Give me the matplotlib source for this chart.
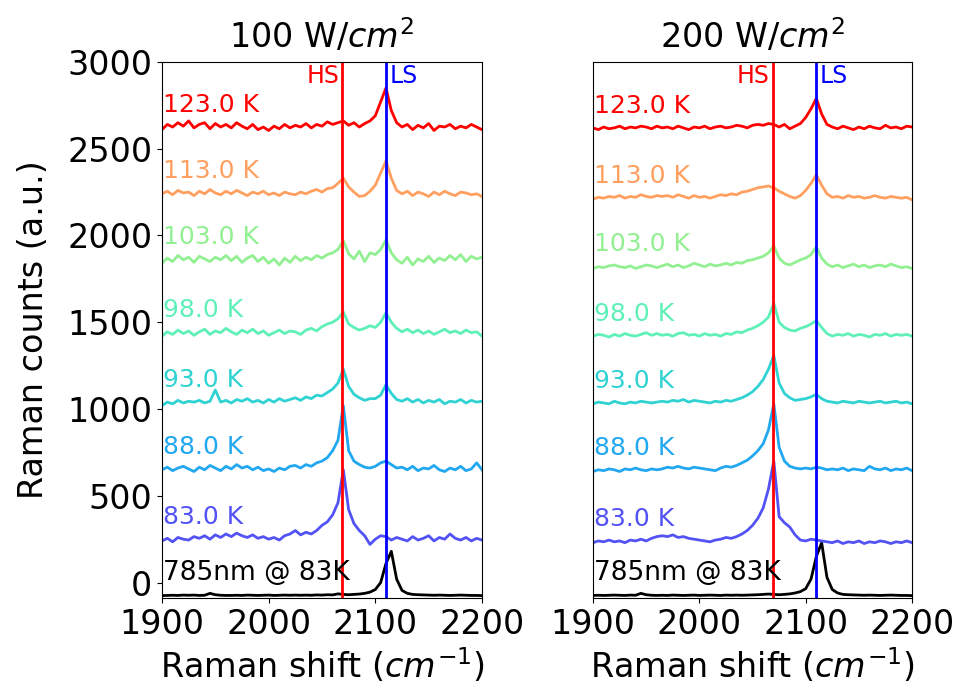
import numpy as np
import matplotlib
matplotlib.use("Agg")
import matplotlib.pyplot as plt

# Raman shift grid (cm^-1)
shift = np.arange(1900, 2201, 5)

labels = ["785nm @ 83K", "83.0 K", "88.0 K", "93.0 K", "98.0 K", "103.0 K", "113.0 K", "123.0 K"]
colors = ["#000000", "#5252f5", "#22a8f0", "#30d2d2", "#5ff0b8", "#92f092", "#ffa060", "#ff0000"]
titles = ["100 W/$cm^2$", "200 W/$cm^2$"]
hs_pos = 2069
ls_pos = 2110

# ---- 100 W/cm2 (offset spectra as displayed) ----
p100_black = [-75, -74, -73, -74, -72, -73, -72, -74, -73, -62, -70, -73, -74,
              -74, -73, -74, -72, -73, -74, -73, -72, -74, -73, -72, -73, -72,
              -73, -72, -73, -71, -72, -70, -71, -65,
              -68,
              -70, -68, -66, -62, -55,
              -40, 0, 110, 180, 20,
              -45, -62, -68, -70, -71, -72, -73, -72, -73, -74, -73, -72, -73, -74, -74, -75]
p100_83 = [240, 255, 235, 260, 250, 245, 265, 255, 270, 250, 275, 260, 280,
           265, 285, 270, 260, 275, 255, 265, 250, 260, 245, 270, 280, 300,
           275, 290, 280, 300, 330, 350, 390, 460,
           650,
           420, 340, 300, 270, 220,
           250, 270, 265, 245, 260,
           250, 240, 265, 245, 255, 270, 240, 260, 250, 280, 255, 245, 260, 240, 255, 245]
p100_88 = [650, 665, 645, 660, 670, 655, 640, 665, 650, 675, 660, 645, 670,
           655, 680, 660, 670, 650, 665, 645, 655, 640, 660, 650, 670, 675,
           660, 680, 670, 690, 700, 720, 760, 820,
           1020,
           760, 700, 680, 665, 660,
           670, 690, 700, 680, 660,
           665, 650, 670, 645, 660, 655, 675, 650, 640, 660, 650, 670, 645, 655, 690, 650]
p100_93 = [1020, 1040, 1030, 1050, 1035, 1045, 1040, 1050, 1035, 1045, 1110, 1040, 1050,
           1035, 1055, 1045, 1060, 1040, 1050, 1035, 1055, 1040, 1060, 1045, 1055, 1065,
           1050, 1070, 1060, 1080, 1075, 1095, 1115, 1150,
           1230,
           1130, 1085, 1065, 1050, 1060,
           1060, 1080, 1140, 1090, 1055,
           1045, 1060, 1040, 1055, 1035, 1050, 1040, 1055, 1030, 1045, 1040, 1055, 1035, 1050, 1040, 1045]
p100_98 = [1420, 1445, 1430, 1455, 1435, 1450, 1425, 1445, 1460, 1430, 1450, 1440, 1465,
           1445, 1430, 1455, 1440, 1460, 1435, 1450, 1425, 1440, 1455, 1435, 1450, 1445,
           1430, 1455, 1465, 1450, 1475, 1490, 1500, 1520,
           1560,
           1490, 1470, 1455, 1465, 1480,
           1470, 1500, 1555, 1500, 1465,
           1445, 1460, 1440, 1455, 1435, 1450, 1430, 1445, 1460, 1440, 1450, 1435, 1455, 1440, 1445, 1420]
p100_103 = [1840, 1870, 1850, 1885, 1860, 1875, 1845, 1880, 1865, 1850, 1875, 1860, 1885,
            1855, 1880, 1845, 1870, 1885, 1850, 1875, 1840, 1865, 1830, 1870, 1845, 1880,
            1855, 1875, 1860, 1885, 1870, 1890, 1900, 1920,
            1970,
            1895, 1865, 1910, 1850, 1900,
            1890, 1920, 1975, 1900, 1860,
            1840, 1875, 1830, 1865, 1850, 1880, 1845, 1870, 1855, 1885, 1860, 1890, 1850, 1880, 1865, 1875]
p100_113 = [2240, 2255, 2235, 2260, 2245, 2250, 2230, 2255, 2240, 2265, 2245, 2235, 2255,
            2240, 2260, 2245, 2230, 2250, 2240, 2255, 2235, 2245, 2230, 2250, 2240, 2235,
            2250, 2240, 2255, 2265, 2250, 2270, 2275, 2300,
            2330,
            2280, 2250, 2225, 2230, 2255,
            2290, 2360, 2430, 2330, 2260,
            2240, 2255, 2230, 2250, 2240, 2225, 2250, 2235, 2255, 2240, 2230, 2250, 2245, 2235, 2240, 2225]
p100_123 = [2610, 2640, 2625, 2650, 2630, 2660, 2620, 2640, 2650, 2615, 2645, 2625, 2640,
            2620, 2650, 2630, 2615, 2640, 2610, 2625, 2605, 2630, 2615, 2640, 2620, 2635,
            2625, 2645, 2620, 2640, 2630, 2655, 2640, 2650,
            2660,
            2635, 2650, 2625, 2645, 2660,
            2690, 2770, 2850, 2720, 2650,
            2625, 2640, 2610, 2635, 2620, 2645, 2605, 2630, 2625, 2640, 2615, 2630, 2620, 2640, 2625, 2610]

# ---- 200 W/cm2 ----
p200_black = [-74, -73, -74, -73, -72, -73, -74, -72, -73, -62, -70, -73, -74,
              -73, -74, -72, -73, -74, -73, -72, -74, -73, -72, -73, -74, -72,
              -73, -72, -73, -72, -71, -70, -68, -66,
              -68,
              -70, -68, -65, -60, -52,
              -35, 20, 150, 230, 30,
              -40, -60, -68, -70, -71, -72, -73, -72, -73, -74, -73, -72, -73, -74, -74, -75]
p200_83 = [230, 240, 235, 245, 235, 240, 230, 245, 240, 250, 240, 255, 265,
           270, 265, 275, 260, 265, 255, 250, 245, 240, 235, 245, 250, 260,
           255, 265, 280, 300, 330, 370, 430, 540,
           700,
           380, 345, 320, 275, 245,
           240, 250, 245, 240, 235,
           230, 240, 225, 235, 230, 240, 225, 235, 230, 240, 235, 225, 235, 230, 240, 230]
p200_88 = [640, 650, 645, 655, 650, 640, 655, 650, 660, 650, 645, 655, 650,
           655, 665, 660, 670, 660, 655, 665, 660, 655, 650, 645, 660, 670,
           665, 675, 690, 705, 730, 760, 800, 880,
           1030,
           780, 700, 670, 660, 655,
           660, 655, 665, 660, 650,
           655, 650, 660, 645, 655, 650, 645, 670, 655, 650, 660, 645, 655, 650, 660, 645]
p200_93 = [1030, 1040, 1035, 1030, 1045, 1035, 1030, 1040, 1035, 1045, 1040, 1035, 1040,
           1045, 1040, 1050, 1045, 1055, 1040, 1050, 1045, 1040, 1035, 1045, 1040, 1050,
           1045, 1055, 1065, 1080, 1100, 1130, 1170, 1230,
           1310,
           1150, 1090, 1065, 1050, 1055,
           1060, 1070, 1085, 1060, 1045,
           1040, 1035, 1045, 1040, 1035, 1045, 1040, 1035, 1040, 1045, 1035, 1040, 1045, 1035, 1040, 1030]
p200_98 = [1420, 1430, 1425, 1415, 1430, 1420, 1435, 1425, 1420, 1430, 1440, 1425, 1435,
           1425, 1430, 1420, 1435, 1440, 1425, 1430, 1420, 1435, 1425, 1430, 1420, 1435,
           1430, 1445, 1440, 1455, 1465, 1480, 1500, 1530,
           1610,
           1500, 1470, 1455, 1450, 1465,
           1475, 1490, 1510, 1470, 1435,
           1420, 1430, 1425, 1435, 1420, 1430, 1425, 1415, 1430, 1425, 1435, 1420, 1430, 1425, 1430, 1420]
p200_103 = [1810, 1820, 1815, 1825, 1830, 1820, 1815, 1825, 1810, 1820, 1830, 1825, 1815,
            1825, 1835, 1820, 1830, 1815, 1825, 1840, 1830, 1820, 1835, 1825, 1830, 1840,
            1830, 1845, 1840, 1855, 1860, 1870, 1880, 1900,
            1940,
            1870, 1840, 1830, 1845, 1860,
            1870, 1890, 1935, 1870, 1835,
            1820, 1830, 1815, 1825, 1835, 1820, 1830, 1815, 1825, 1830, 1820, 1835, 1825, 1815, 1820, 1810]
p200_113 = [2210, 2220, 2215, 2225, 2220, 2230, 2215, 2225, 2220, 2235, 2225, 2220, 2230,
            2225, 2230, 2220, 2235, 2225, 2215, 2230, 2220, 2225, 2215, 2225, 2235, 2230,
            2240, 2235, 2250, 2255, 2265, 2275, 2280, 2285,
            2275,
            2255, 2240, 2225, 2215, 2230,
            2260, 2300, 2350, 2290, 2240,
            2220, 2225, 2215, 2230, 2220, 2225, 2215, 2220, 2230, 2220, 2215, 2225, 2220, 2215, 2220, 2205]
p200_123 = [2620, 2610, 2625, 2615, 2620, 2630, 2615, 2625, 2620, 2630, 2625, 2615, 2630,
            2620, 2625, 2615, 2630, 2620, 2610, 2625, 2620, 2630, 2615, 2625, 2630, 2620,
            2625, 2635, 2630, 2620, 2635, 2640, 2635, 2645,
            2640,
            2625, 2640, 2615, 2630, 2645,
            2680, 2730, 2790, 2700, 2640,
            2625, 2615, 2630, 2620, 2610, 2625, 2615, 2630, 2620, 2615, 2635, 2620, 2625, 2615, 2630, 2625]

panels = [
    [p100_black, p100_83, p100_88, p100_93, p100_98, p100_103, p100_113, p100_123],
    [p200_black, p200_83, p200_88, p200_93, p200_98, p200_103, p200_113, p200_123],
]

fig = plt.figure(figsize=(9.55, 6.96), dpi=100)
ax1 = fig.add_axes([0.1696, 0.141, 0.3351, 0.770])
ax2 = fig.add_axes([0.6210, 0.141, 0.3340, 0.770], sharey=ax1)

for ax, series_set, title in zip([ax1, ax2], panels, titles):
    for ys, lab, col in zip(series_set, labels, colors):
        ys = np.asarray(ys, dtype=float)
        ax.plot(shift, ys, color=col, lw=2)
        fs = 19 if lab.startswith("785") else 18
        ax.text(1901, np.median(ys) + 50, lab, color=col, fontsize=fs,
                ha="left", va="bottom")
    ax.axvline(hs_pos, color="red", lw=2)
    ax.axvline(ls_pos, color="blue", lw=2)
    ax.text(hs_pos - 3, 2850, "HS", color="red", fontsize=17, ha="right", va="bottom")
    ax.text(ls_pos + 3, 2850, "LS", color="blue", fontsize=17, ha="left", va="bottom")
    ax.set_xlim(1900, 2200)
    ax.set_xticks([1900, 2000, 2100, 2200])
    ax.set_title(title, fontsize=24, pad=10)
    ax.set_xlabel("Raman shift ($cm^{-1}$)", fontsize=24)
    ax.tick_params(labelsize=24)

ax1.set_ylim(-88, 3000)
ax1.set_yticks([0, 500, 1000, 1500, 2000, 2500, 3000])
ax1.set_ylabel("Raman counts (a.u.)", fontsize=24, labelpad=12)
ax2.tick_params(left=False, labelleft=False)

fig.savefig("out.png", dpi=100)
